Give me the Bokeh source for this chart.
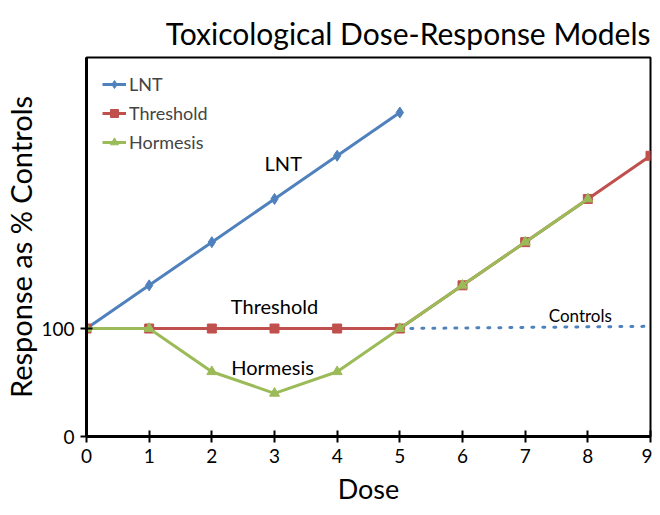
from bokeh.plotting import figure
from bokeh.models import Range1d, FixedTicker, Legend, LegendItem
from bokeh.core.properties import value
from bokeh.embed import file_html
from bokeh.resources import INLINE

# Data
dose_lnt = [0, 1, 2, 3, 4, 5]
lnt = [100, 140, 180, 220, 260, 300]
dose_thr = [0, 1, 2, 3, 4, 5, 6, 7, 8, 9]
threshold = [100, 100, 100, 100, 100, 100, 140, 180, 220, 260]
dose_hor = [0, 1, 2, 3, 4, 5, 6, 7, 8]
hormesis = [100, 100, 60, 40, 60, 100, 140, 180, 220]
dose_ctrl = [5, 8.9]
controls = [100, 102]
x_ticks = [0, 1, 2, 3, 4, 5, 6, 7, 8, 9]
y_ticks = [0, 100]
ann_text = ["LNT", "Threshold", "Hormesis"]
ann_x = [3.14, 3.0, 2.97]
ann_y = [253, 121, 64]
title_text = "Toxicological Dose-Response Models"

FONT = "Lato"
BLUE = "#4F81BD"
RED = "#C0504D"
GREEN = "#9BBB59"

p = figure(width=652, height=507, output_backend="svg", toolbar_location=None,
           x_range=Range1d(0, 9), y_range=Range1d(0, 351),
           min_border_left=86, min_border_right=2, min_border_top=57, min_border_bottom=69,
           title=title_text)

p.title.text_font = FONT
p.title.text_font_size = "30px"
p.title.text_font_style = "normal"
p.title.align = "right"
p.title.vertical_align = "top"
p.title.text_color = "black"

p.xgrid.visible = False
p.ygrid.visible = False
p.outline_line_color = "black"
p.outline_line_width = 2
p.background_fill_color = "white"
p.border_fill_color = "white"

for ax in (p.xaxis[0], p.yaxis[0]):
    ax.axis_line_color = "black"
    ax.major_tick_line_color = "black"
    ax.major_tick_line_width = 2
    ax.minor_tick_line_color = None
    ax.major_tick_in = 6
    ax.major_tick_out = 6
    ax.major_label_text_font = FONT
    ax.major_label_text_font_size = "19px"
    ax.major_label_text_color = "black"
    ax.axis_label_text_font = FONT
    ax.axis_label_text_font_style = "normal"
    ax.axis_label_text_color = "black"

p.xaxis.axis_line_width = 3
p.yaxis.axis_line_width = 3
p.xaxis.ticker = FixedTicker(ticks=x_ticks)
p.yaxis.ticker = FixedTicker(ticks=y_ticks)
p.xaxis.axis_label = "Dose"
p.yaxis.axis_label = "Response as % Controls"
p.xaxis.axis_label_text_font_size = "27px"
p.yaxis.axis_label_text_font_size = "29px"
p.xaxis.major_label_standoff = 6
p.yaxis.major_label_standoff = 6
p.xaxis.axis_label_standoff = 6
p.yaxis.axis_label_standoff = 0

# Controls dotted line
p.line(dose_ctrl, controls, line_color=BLUE, line_width=3, line_dash="2 9", line_cap="round")

r_lnt_l = p.line(dose_lnt, lnt, line_color=BLUE, line_width=3)
r_lnt_m = p.scatter(dose_lnt, lnt, marker="diamond", size=11, fill_color=BLUE, line_color=BLUE)
r_thr_l = p.line(dose_thr, threshold, line_color=RED, line_width=3)
r_thr_m = p.scatter(dose_thr, threshold, marker="square", size=9, fill_color=RED, line_color=RED)
r_hor_l = p.line(dose_hor, hormesis, line_color=GREEN, line_width=3)
r_hor_m = p.scatter(dose_hor, hormesis, marker="triangle", size=10, fill_color=GREEN, line_color=GREEN)

p.text(ann_x, ann_y, text=ann_text, text_font=value(FONT), text_font_size="20px",
       text_align="center", text_baseline="middle", text_color="black")
p.text([7.88], [112], text=["Controls"], text_font=value(FONT), text_font_size="17px",
       text_align="center", text_baseline="middle", text_color="black")

legend = Legend(items=[
    LegendItem(label="LNT", renderers=[r_lnt_l, r_lnt_m]),
    LegendItem(label="Threshold", renderers=[r_thr_l, r_thr_m]),
    LegendItem(label="Hormesis", renderers=[r_hor_l, r_hor_m]),
], location="top_left")
legend.border_line_color = None
legend.background_fill_alpha = 0
legend.label_text_font = FONT
legend.label_text_font_size = "18px"
legend.glyph_width = 24
legend.label_standoff = 3
legend.spacing = 7
legend.padding = 15
legend.margin = 16
p.add_layout(legend)

open("out.html", "w").write(file_html(p, INLINE))
